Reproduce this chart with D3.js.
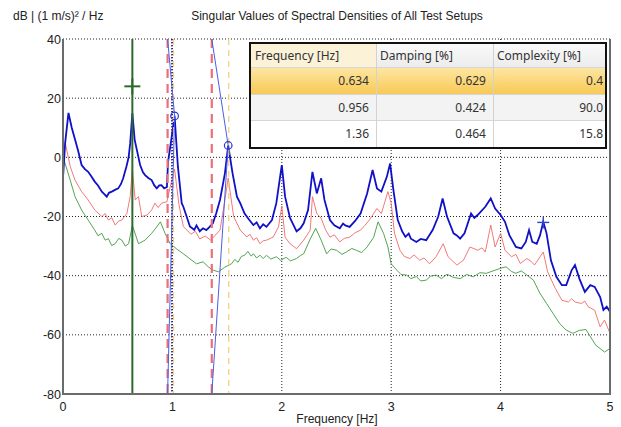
<!DOCTYPE html>
<html>
<head>
<meta charset="utf-8">
<script src="https://cdn.jsdelivr.net/npm/d3@7"></script>
<style>
  body { margin: 0; background: #fff; }
  text { font-family: "Liberation Sans", Arial, sans-serif; }
  .tbl text { font-family: "Noto Sans", "Open Sans", sans-serif; font-size: 12px; fill: #333; }
</style>
</head>
<body>
<div id="chart"></div>
<script>
// singular value curves (Hz, dB)
var blueFreq = [0.00,0.02,0.05,0.08,0.11,0.14,0.17,0.20,0.23,0.26,0.29,0.32,0.355,0.38,0.40,0.42,0.446,0.475,0.505,0.53,0.55,0.58,0.60,0.614,0.634,0.655,0.675,0.705,0.73,0.75,0.78,0.81,0.835,0.857,0.88,0.90,0.925,0.95,0.96,0.99,1.02,1.05,1.085,1.10,1.13,1.16,1.20,1.22,1.25,1.28,1.31,1.34,1.37,1.40,1.435,1.48,1.51,1.55,1.59,1.62,1.66,1.70,1.74,1.77,1.80,1.83,1.86,1.91,1.95,1.98,2.00,2.03,2.075,2.135,2.17,2.20,2.24,2.28,2.32,2.36,2.39,2.44,2.48,2.53,2.56,2.58,2.62,2.67,2.72,2.78,2.83,2.87,2.91,2.96,2.99,3.02,3.06,3.10,3.13,3.16,3.18,3.23,3.27,3.32,3.38,3.43,3.47,3.51,3.57,3.60,3.63,3.67,3.73,3.76,3.79,3.86,3.91,3.95,4.00,4.04,4.08,4.14,4.19,4.23,4.26,4.29,4.33,4.36,4.39,4.42,4.46,4.51,4.56,4.60,4.65,4.68,4.72,4.77,4.82,4.86,4.91,4.94,4.97,5.00];
var blueDb = [-7,5,15,10,6,2,-2.6,-4,-4.9,-6.5,-8.2,-9.5,-11.6,-12.5,-13.3,-12,-11.6,-11,-10.5,-9,-7.1,-3.1,0,4.7,15,6,2.5,-2.6,-5,-6,-7,-7.7,-9.5,-10.5,-9.5,-9.4,-10.5,-10,-1.6,6,14,-3,-15.5,-16.7,-20,-23.4,-24.5,-23,-25,-24,-24.6,-23.5,-22.3,-19,-14.4,-5.4,4,-5.4,-13.3,-15.5,-19,-21,-22.9,-22,-24,-22.6,-23.5,-21.2,-15.5,-7.7,-2.6,-13.3,-20.5,-25,-24,-22.3,-17.8,-4.9,-12.2,-7.1,-14.4,-21.2,-23,-24,-22.4,-23,-23.5,-21.5,-19,-12.2,-4.3,-10.5,-11.6,-6.6,-2.1,-11,-21.2,-25,-26.9,-25.8,-27.5,-28.6,-27.6,-28,-24.5,-20,-13.9,-20,-25.7,-26.4,-27.5,-25.7,-19,-20.5,-19.5,-16.7,-13.9,-17.3,-19.5,-21.8,-26.3,-30.3,-30.8,-28.6,-24.6,-28.6,-29.2,-26.4,-21.8,-25.7,-34.8,-40.4,-43.2,-43.2,-38.1,-36.4,-41,-45.5,-43.2,-43.8,-47.2,-51.6,-50.5,-52.2];

var redFreq = [0.00,0.02,0.066,0.11,0.17,0.23,0.29,0.355,0.385,0.415,0.445,0.477,0.51,0.538,0.584,0.614,0.634,0.66,0.69,0.72,0.77,0.81,0.84,0.87,0.90,0.95,0.98,1.02,1.06,1.10,1.17,1.21,1.25,1.30,1.35,1.435,1.48,1.51,1.56,1.62,1.68,1.71,1.74,1.77,1.80,1.83,1.86,1.92,1.97,2.00,2.03,2.075,2.135,2.20,2.26,2.28,2.32,2.36,2.40,2.44,2.48,2.53,2.57,2.62,2.67,2.72,2.76,2.80,2.87,2.91,2.97,3.00,3.03,3.08,3.12,3.17,3.21,3.26,3.30,3.35,3.41,3.475,3.52,3.56,3.60,3.66,3.72,3.79,3.83,3.86,3.91,3.95,4.00,4.04,4.10,4.14,4.18,4.24,4.28,4.31,4.39,4.43,4.50,4.56,4.62,4.65,4.68,4.74,4.77,4.80,4.86,4.91,4.95,5.00];
var redDb = [-2,5,-3.1,-7.7,-11.6,-14.4,-17.8,-20,-19,-21.2,-20.4,-22.9,-21.5,-21.2,-19,-13.3,-4,-14.4,-13.3,-20,-19.5,-17.8,-15.5,-17,-15.5,-15,-10,-4,-16,-23.4,-26,-25,-27.6,-26.6,-28,-24.6,-14.4,-7,-20,-24.6,-26.9,-26,-28,-27.2,-29.2,-28.2,-28,-27,-23.5,-16.5,-27,-29.2,-30.9,-28,-24.6,-13.3,-19,-20.6,-24.5,-27,-26.2,-28.6,-27.4,-27,-25.5,-24.6,-23,-21.2,-17.3,-19,-11.6,-15.5,-25.7,-31.4,-33.5,-34.2,-33,-34.8,-34,-36,-33.6,-29.2,-33.6,-35,-36.4,-34.8,-30.3,-31.4,-30.6,-32,-22.9,-30.3,-25.7,-31.4,-33.6,-32.8,-35.9,-34.2,-35.2,-36.4,-32,-38.7,-44.3,-48.3,-48.9,-47.8,-48.9,-49.4,-48.6,-50.5,-51.7,-57.3,-55,-59.5];

var greenFreq = [0.00,0.01,0.066,0.11,0.17,0.23,0.29,0.32,0.355,0.385,0.415,0.445,0.477,0.51,0.538,0.57,0.60,0.634,0.69,0.75,0.81,0.857,0.89,0.933,0.98,1.04,1.10,1.16,1.22,1.28,1.33,1.37,1.42,1.48,1.54,1.57,1.60,1.63,1.66,1.69,1.72,1.74,1.77,1.80,1.83,1.86,1.90,1.95,1.99,2.04,2.08,2.135,2.17,2.20,2.26,2.31,2.36,2.41,2.45,2.50,2.55,2.59,2.64,2.68,2.73,2.78,2.84,2.88,2.93,2.97,3.00,3.05,3.09,3.14,3.18,3.23,3.27,3.32,3.36,3.41,3.46,3.51,3.57,3.63,3.69,3.75,3.81,3.87,3.93,4.00,4.05,4.10,4.14,4.19,4.24,4.30,4.36,4.42,4.48,4.54,4.60,4.66,4.72,4.78,4.87,4.95,5.00];
var greenDb = [-4,-1,-7.7,-13.3,-17.8,-21.2,-24.6,-26.5,-25.7,-28,-27.5,-29.8,-29.2,-27.4,-28,-30,-29.2,-23,-29.2,-28,-25.7,-23.5,-21.8,-25.7,-29.2,-31,-32.6,-34.3,-36,-35.3,-37.1,-38.1,-38.7,-37.1,-36,-34.5,-35.5,-33.5,-33.1,-31.8,-33.4,-32.6,-34,-33.1,-34.2,-33.1,-34.4,-33.6,-34.8,-33.8,-35,-34.2,-33.2,-32.6,-27.6,-24,-28,-32.6,-31,-31.4,-32.8,-32,-30.8,-31.4,-32.2,-30.3,-27,-21.8,-25.7,-30.3,-36,-38.1,-39.6,-39.8,-41,-40.3,-41.8,-41.5,-40.2,-39.8,-41,-39.5,-40.6,-41,-39.6,-40.4,-39,-39.2,-38.4,-37.5,-37,-38.6,-39.2,-38.4,-39.8,-41.5,-46,-49.4,-52.8,-56.2,-58.4,-59.5,-58.5,-58.2,-63.5,-65.8,-64.6];

// mode markers
var greenLineFreq = [0.634];
var redDashFreq = [0.956, 1.36];
var blueDotFreq = [0.995];
var yellowDashFreq = [1.01, 1.515];
var peakFreq = [1.02, 1.51];
var peakDb = [14, 4];
var plusFreq = [0.634, 4.39];
var plusDb = [24, -22];
var plusColor = ["#2d6a2d", "#3344cc"];
var plusSize = [8, 6];
var plusWidth = [2, 1.4];

// table
var tableHeader = ["Frequency [Hz]", "Damping [%]", "Complexity [%]"];
var tableFreq = ["0.634", "0.956", "1.36"];
var tableDamping = ["0.629", "0.424", "0.464"];
var tableComplexity = ["0.4", "90.0", "15.8"];

var xTicks = [0, 1, 2, 3, 4, 5];
var yTicks = [40, 20, 0, -20, -40, -60, -80];

var svgWidth = 621;
var svgHeight = 427;

var svg = d3.select("#chart")
    .append("svg")
    .attr("width", svgWidth)
    .attr("height", svgHeight);

var x = d3.scaleLinear().domain([0, 5]).range([63, 610]);
var y = d3.scaleLinear().domain([-80, 40]).range([394, 39]);

// gridlines
svg.selectAll(".hgrid")
    .data(yTicks.filter(d => d > -80))
    .enter()
    .append("line")
    .attr("x1", x(0)).attr("x2", x(5))
    .attr("y1", d => y(d)).attr("y2", d => y(d))
    .attr("stroke", "#222")
    .attr("stroke-width", 1)
    .attr("stroke-dasharray", "1,2");

svg.selectAll(".vgrid")
    .data(xTicks.filter(d => d > 0 && d < 5))
    .enter()
    .append("line")
    .attr("x1", d => x(d)).attr("x2", d => x(d))
    .attr("y1", y(40)).attr("y2", y(-80))
    .attr("stroke", "#222")
    .attr("stroke-width", 1)
    .attr("stroke-dasharray", "1,2");

svg.append("clipPath").attr("id", "plotclip")
    .append("rect")
    .attr("x", x(0)).attr("y", y(40))
    .attr("width", x(5) - x(0)).attr("height", y(-80) - y(40));

var plot = svg.append("g").attr("clip-path", "url(#plotclip)");

var line = d3.line()
    .x(d => x(d[0]))
    .y(d => y(d[1]));

plot.append("path")
    .datum(d3.zip(greenFreq, greenDb))
    .attr("d", line)
    .attr("fill", "none")
    .attr("stroke", "#3f9a3f")
    .attr("stroke-width", 0.9);

plot.append("path")
    .datum(d3.zip(redFreq, redDb))
    .attr("d", line)
    .attr("fill", "none")
    .attr("stroke", "#f06a6a")
    .attr("stroke-width", 0.9);

plot.append("path")
    .datum(d3.zip(blueFreq, blueDb))
    .attr("d", line)
    .attr("fill", "none")
    .attr("stroke", "#1010c8")
    .attr("stroke-width", 1.8);

// vertical mode lines
plot.selectAll(".yellowdash")
    .data(yellowDashFreq)
    .enter()
    .append("line")
    .attr("x1", d => x(d)).attr("x2", d => x(d))
    .attr("y1", y(40)).attr("y2", y(-80))
    .attr("stroke", "#f3d27a")
    .attr("stroke-width", 1.3)
    .attr("stroke-dasharray", "6,5");

plot.selectAll(".reddash")
    .data(redDashFreq)
    .enter()
    .append("line")
    .attr("x1", d => x(d)).attr("x2", d => x(d))
    .attr("y1", y(40)).attr("y2", y(-80))
    .attr("stroke", "#ec6f78")
    .attr("stroke-width", 2.2)
    .attr("stroke-dasharray", "9,6");

plot.selectAll(".bluedot")
    .data(blueDotFreq)
    .enter()
    .append("line")
    .attr("x1", d => x(d)).attr("x2", d => x(d))
    .attr("y1", y(40)).attr("y2", y(-80))
    .attr("stroke", "#1a1aa0")
    .attr("stroke-width", 1.3)
    .attr("stroke-dasharray", "1.5,1.5");

// thin lines from each dashed mode line to its peak
plot.selectAll(".peakline")
    .data(d3.range(peakFreq.length))
    .enter()
    .append("path")
    .attr("d", i => line([[redDashFreq[i], 40], [peakFreq[i], peakDb[i]], [redDashFreq[i], -80]]))
    .attr("fill", "none")
    .attr("stroke", "#4a5ee6")
    .attr("stroke-width", 1);

plot.selectAll(".greenline")
    .data(greenLineFreq)
    .enter()
    .append("line")
    .attr("x1", d => x(d)).attr("x2", d => x(d))
    .attr("y1", y(40)).attr("y2", y(-80))
    .attr("stroke", "#2d6a2d")
    .attr("stroke-width", 2);

plot.selectAll(".peak")
    .data(d3.range(peakFreq.length))
    .enter()
    .append("circle")
    .attr("cx", i => x(peakFreq[i]))
    .attr("cy", i => y(peakDb[i]))
    .attr("r", 3.8)
    .attr("fill", "none")
    .attr("stroke", "#2a36d0")
    .attr("stroke-width", 1.2);

plusFreq.forEach(function(f, i) {
    var g = plot.append("g").attr("stroke", plusColor[i]).attr("stroke-width", plusWidth[i]);
    g.append("line")
        .attr("x1", x(f) - plusSize[i]).attr("x2", x(f) + plusSize[i])
        .attr("y1", y(plusDb[i])).attr("y2", y(plusDb[i]));
    g.append("line")
        .attr("x1", x(f)).attr("x2", x(f))
        .attr("y1", y(plusDb[i]) - plusSize[i]).attr("y2", y(plusDb[i]) + plusSize[i]);
});

// frame: left, bottom, right solid
svg.append("path")
    .attr("d", `M${x(0)},${y(40)} V${y(-80)} H${x(5)} V${y(40)}`)
    .attr("fill", "none")
    .attr("stroke", "#6b6b6b")
    .attr("stroke-width", 2);

// tick labels
svg.selectAll(".ylab")
    .data(yTicks)
    .enter()
    .append("text")
    .attr("x", 61)
    .attr("y", d => y(d) + 4.5)
    .attr("text-anchor", "end")
    .style("font-size", "12.5px")
    .style("fill", "#222")
    .text(d => d);

svg.selectAll(".xlab")
    .data(xTicks)
    .enter()
    .append("text")
    .attr("x", d => x(d))
    .attr("y", 411)
    .attr("text-anchor", "middle")
    .style("font-size", "12.5px")
    .style("fill", "#222")
    .text(d => d);

svg.append("text")
    .attr("x", 337)
    .attr("y", 423)
    .attr("text-anchor", "middle")
    .style("font-size", "12px")
    .style("fill", "#222")
    .text("Frequency [Hz]");

svg.append("text")
    .attr("x", 13)
    .attr("y", 20)
    .style("font-size", "12px")
    .style("fill", "#222")
    .text("dB | (1 m/s)\u00b2 / Hz");

svg.append("text")
    .attr("x", 337)
    .attr("y", 20)
    .attr("text-anchor", "middle")
    .style("font-size", "12px")
    .style("fill", "#222")
    .text("Singular Values of Spectral Densities of All Test Setups");

// table
var defs = svg.append("defs");
var hl = defs.append("linearGradient").attr("id", "hl").attr("x1", 0).attr("x2", 0).attr("y1", 0).attr("y2", 1);
hl.append("stop").attr("offset", "0%").attr("stop-color", "#fde7a6");
hl.append("stop").attr("offset", "100%").attr("stop-color", "#f8c955");
var hd = defs.append("linearGradient").attr("id", "hd").attr("x1", 0).attr("x2", 0).attr("y1", 0).attr("y2", 1);
hd.append("stop").attr("offset", "0%").attr("stop-color", "#fafafa");
hd.append("stop").attr("offset", "100%").attr("stop-color", "#ececec");

var tbl = svg.append("g").attr("class", "tbl");
var colX = [251, 376, 493, 605];
var rowY = [44, 67, 94, 120, 147];
var rowFill = ["url(#hl)", "#f3f3f3", "#ffffff"];
var cols = [tableFreq, tableDamping, tableComplexity];

tbl.append("rect")
    .attr("x", colX[0]).attr("y", rowY[0])
    .attr("width", colX[3] - colX[0]).attr("height", rowY[1] - rowY[0])
    .attr("fill", "url(#hd)");
tbl.append("rect")
    .attr("x", colX[0]).attr("y", rowY[0])
    .attr("width", colX[1] - colX[0]).attr("height", rowY[1] - rowY[0])
    .attr("fill", "#fbf2d8");

tbl.selectAll(".row")
    .data(rowFill)
    .enter()
    .append("rect")
    .attr("x", colX[0])
    .attr("y", (d, i) => rowY[i + 1])
    .attr("width", colX[3] - colX[0])
    .attr("height", (d, i) => rowY[i + 2] - rowY[i + 1])
    .attr("fill", d => d);

tbl.selectAll(".rowsep")
    .data(rowY.slice(1, 4))
    .enter()
    .append("line")
    .attr("x1", colX[0]).attr("x2", colX[3])
    .attr("y1", d => d + 0.5).attr("y2", d => d + 0.5)
    .attr("stroke", "#d6d6d6");

tbl.selectAll(".colsep")
    .data(colX.slice(1, 3))
    .enter()
    .append("line")
    .attr("x1", d => d + 0.5).attr("x2", d => d + 0.5)
    .attr("y1", rowY[0]).attr("y2", rowY[4])
    .attr("stroke", "#d2d2d2");

tbl.selectAll(".hdr")
    .data(tableHeader)
    .enter()
    .append("text")
    .attr("x", (d, i) => colX[i] + 4)
    .attr("y", rowY[0] + 16)
    .text(d => d);

cols.forEach(function(col, c) {
    tbl.selectAll(".c" + c)
        .data(col)
        .enter()
        .append("text")
        .attr("x", colX[c + 1] - (c === 2 ? 2 : 7))
        .attr("y", (d, i) => rowY[i + 1] + 18)
        .attr("text-anchor", "end")
        .text(d => d);
});

tbl.append("rect")
    .attr("x", colX[0] - 1).attr("y", rowY[0] - 1)
    .attr("width", colX[3] - colX[0] + 2).attr("height", rowY[4] - rowY[0] + 2)
    .attr("fill", "none")
    .attr("stroke", "#111")
    .attr("stroke-width", 2);
</script>
</body>
</html>
